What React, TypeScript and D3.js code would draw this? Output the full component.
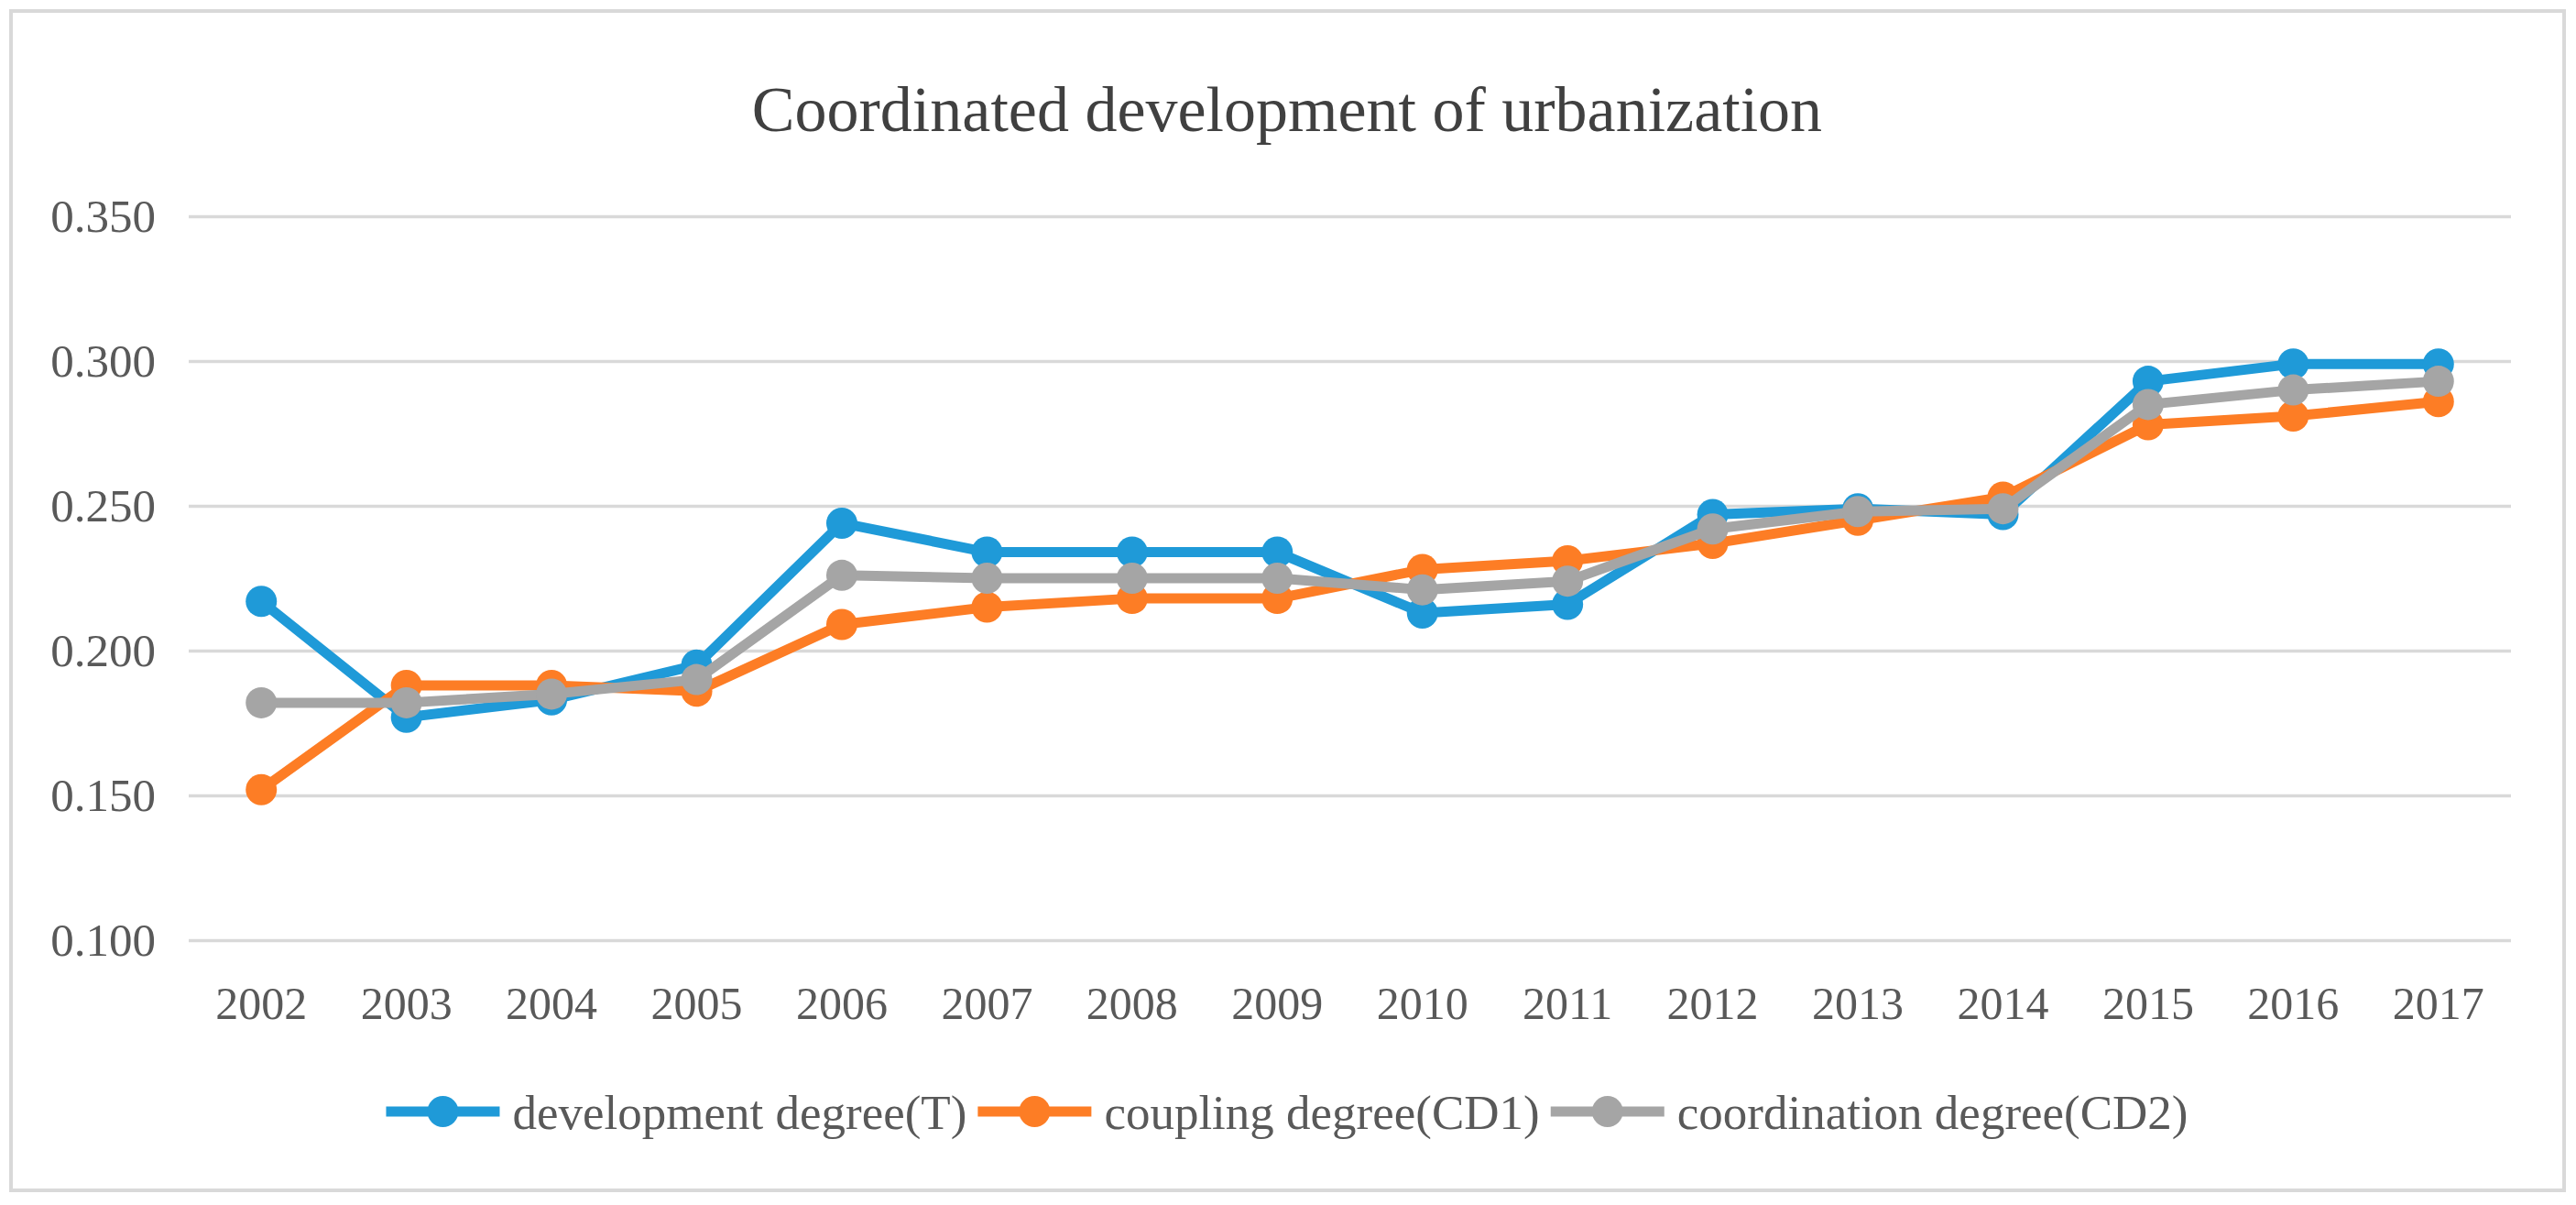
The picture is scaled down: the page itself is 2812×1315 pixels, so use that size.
import * as React from "react"
import * as d3 from "d3"

const years = ["2002", "2003", "2004", "2005", "2006", "2007", "2008", "2009", "2010", "2011", "2012", "2013", "2014", "2015", "2016", "2017"]
const developmentT = [0.217, 0.177, 0.183, 0.195, 0.244, 0.234, 0.234, 0.234, 0.213, 0.216, 0.247, 0.249, 0.247, 0.293, 0.299, 0.299]
const couplingCD1 = [0.152, 0.188, 0.188, 0.186, 0.209, 0.215, 0.218, 0.218, 0.228, 0.231, 0.237, 0.245, 0.253, 0.278, 0.281, 0.286]
const coordinationCD2 = [0.182, 0.182, 0.185, 0.190, 0.226, 0.225, 0.225, 0.225, 0.221, 0.224, 0.242, 0.248, 0.249, 0.285, 0.290, 0.293]
const yTicks = [0.1, 0.15, 0.2, 0.25, 0.3, 0.35]
const seriesNames = ["development degree(T)", "coupling degree(CD1)", "coordination degree(CD2)"]
const seriesColors = ["#1f9ad8", "#fd7d25", "#a5a5a5"]
const title = "Coordinated development of urbanization"

const W = 2812
const H = 1315
const FONT = "'Liberation Serif', 'Times New Roman', serif"

export default function App() {
  const svgRef = React.useRef<SVGSVGElement>(null)

  React.useEffect(() => {
    if (!svgRef.current) return
    const svg = d3.select(svgRef.current)
    svg.selectAll("*").remove()

    const plot = { left: 206, right: 2741, top: 236, bottom: 1026 }

    const x = d3.scaleBand().domain(years).range([plot.left, plot.right])
    const y = d3.scaleLinear().domain([0.1, 0.35]).range([plot.bottom, plot.top])
    const cx = (yr: string) => (x(yr) || 0) + x.bandwidth() / 2

    svg.append("rect").attr("width", W).attr("height", H).attr("fill", "#fff")

    // chart frame
    svg.append("rect")
      .attr("x", 12).attr("y", 12)
      .attr("width", 2787).attr("height", 1287)
      .attr("fill", "none")
      .attr("stroke", "#d9d9d9")
      .attr("stroke-width", 4)

    svg.append("text")
      .attr("x", 1405).attr("y", 143)
      .attr("text-anchor", "middle")
      .attr("font-family", FONT)
      .attr("font-size", 70)
      .attr("fill", "#404040")
      .text(title)

    // y axis: gridlines + labels
    const yAxis = svg.append("g")
      .attr("transform", `translate(${plot.left},0)`)
      .call(d3.axisLeft(y).tickValues(yTicks).tickFormat(d3.format(".3f")).tickSize(-(plot.right - plot.left)).tickPadding(36))
    yAxis.select(".domain").remove()
    yAxis.selectAll(".tick line").attr("stroke", "#d9d9d9").attr("stroke-width", 3.5)
    yAxis.selectAll(".tick text")
      .attr("font-family", FONT).attr("font-size", 51).attr("fill", "#595959")

    // x axis labels
    const xAxis = svg.append("g")
      .attr("transform", `translate(0,${plot.bottom})`)
      .call(d3.axisBottom(x).tickSize(0).tickPadding(50))
    xAxis.select(".domain").remove()
    xAxis.selectAll(".tick text")
      .attr("font-family", FONT).attr("font-size", 50).attr("fill", "#595959")

    const allSeries = [developmentT, couplingCD1, coordinationCD2]
    const line = d3.line<number>()
      .x((_, i) => cx(years[i]))
      .y((d) => y(d))

    allSeries.forEach((values, s) => {
      const g = svg.append("g")
      g.append("path")
        .datum(values)
        .attr("fill", "none")
        .attr("stroke", seriesColors[s])
        .attr("stroke-width", 11)
        .attr("stroke-linejoin", "round")
        .attr("d", line)
      g.selectAll("circle")
        .data(values)
        .enter()
        .append("circle")
        .attr("cx", (_, i) => cx(years[i]))
        .attr("cy", (d) => y(d))
        .attr("r", 17)
        .attr("fill", seriesColors[s])
    })

    // legend, centred under the plot
    const legend = svg.append("g")
    let pos = 0
    seriesNames.forEach((name, s) => {
      const item = legend.append("g")
      item.append("line")
        .attr("x1", 0).attr("x2", 124)
        .attr("stroke", seriesColors[s]).attr("stroke-width", 11)
      item.append("circle").attr("cx", 62).attr("r", 17).attr("fill", seriesColors[s])
      const t = item.append("text")
        .attr("x", 138).attr("dy", "0.35em")
        .attr("font-family", FONT).attr("font-size", 53).attr("fill", "#595959")
        .text(name)
      const w = (t.node() as SVGTextElement).getComputedTextLength()
      item.attr("transform", `translate(${pos},0)`)
      pos += 138 + w + 12
    })
    const total = pos - 12
    legend.attr("transform", `translate(${1405 - total / 2},1213)`)
  }, [])

  return (
    <svg
      ref={svgRef}
      width={W}
      height={H}
      viewBox={`0 0 ${W} ${H}`}
      style={{ position: "absolute", left: 0, top: 0 }}
    />
  )
}
